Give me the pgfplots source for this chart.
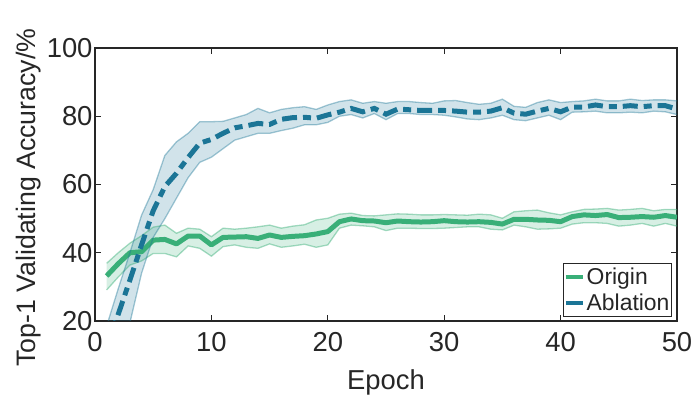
\documentclass[border=0pt]{standalone}
\usepackage{fontspec}
\setmainfont{Liberation Sans}
\usepackage{pgfplots}
\pgfplotsset{compat=1.18}
\usepackage{pgfplotstable}
\usepgfplotslibrary{fillbetween}
\definecolor{ax}{HTML}{262626}
\definecolor{cgreen}{RGB}{57,175,120}
\definecolor{cblue}{RGB}{27,117,150}

\pgfplotstableread{
e m u l
1 33.2 36.9 29.1
2 36.8 40.0 32.9
3 40.0 42.8 36.4
4 40.3 45.0 37.6
5 43.7 47.5 39.8
6 43.9 48.1 39.8
7 42.6 45.7 38.8
8 44.9 47.2 42.0
9 44.9 46.9 41.3
10 42.3 44.7 39.0
11 44.5 47.2 41.8
12 44.6 46.9 42.3
13 44.7 47.2 41.6
14 44.2 47.6 41.3
15 45.2 48.1 42.6
16 44.5 47.2 41.6
17 44.8 47.8 42.0
18 45.0 48.2 42.5
19 45.5 49.6 41.6
20 46.2 50.1 42.3
21 49.1 51.3 47.2
22 49.9 51.6 48.1
23 49.4 50.9 47.9
24 49.3 50.8 47.6
25 48.8 51.1 46.5
26 49.3 51.4 47.2
27 49.1 51.3 47.2
28 49.0 51.1 47.1
29 49.1 51.1 47.1
30 49.4 51.2 47.2
31 49.1 51.1 47.4
32 49.0 51.0 47.6
33 49.1 51.3 47.6
34 48.9 51.1 46.9
35 48.4 50.1 46.7
36 49.8 52.0 48.1
37 49.8 52.3 47.6
38 49.6 52.5 46.9
39 49.5 51.7 47.0
40 49.1 51.1 47.2
41 50.6 52.0 48.4
42 51.1 52.7 48.8
43 50.9 52.8 48.8
44 51.2 53.0 48.6
45 50.3 52.5 47.8
46 50.4 52.7 48.1
47 50.6 53.0 48.6
48 50.4 52.3 47.8
49 50.9 52.7 48.6
50 50.4 52.7 47.8
}\origin

\pgfplotstableread{
e m u l
1 12.0 18.5 4.0
2 22.0 29.5 12.0
3 32.0 40.0 19.5
4 42.3 51.0 34.0
5 52.3 58.5 44.5
6 59.4 68.5 50.0
7 63.3 72.5 56.0
8 67.9 75.0 62.0
9 72.1 78.4 66.5
10 73.2 78.4 68.0
11 75.0 78.5 70.5
12 76.6 79.5 73.0
13 77.2 80.5 74.0
14 77.9 82.3 75.0
15 77.6 81.0 75.0
16 79.1 82.0 75.8
17 79.6 82.5 76.5
18 79.7 82.8 77.5
19 79.4 82.0 77.5
20 80.4 83.3 78.2
21 81.2 84.3 80.0
22 82.3 84.8 80.5
23 81.3 83.8 79.5
24 82.3 84.3 80.8
25 80.6 83.8 79.0
26 82.1 84.3 80.8
27 81.9 84.3 80.8
28 81.7 84.0 80.5
29 81.7 83.8 80.5
30 81.7 84.5 80.3
31 81.5 84.6 79.8
32 81.2 84.0 79.2
33 81.2 83.5 79.0
34 81.5 83.8 79.5
35 82.5 85.0 80.3
36 80.9 82.9 79.0
37 80.6 82.6 78.7
38 81.5 84.0 79.5
39 82.3 84.8 80.3
40 81.3 84.0 79.0
41 82.7 84.3 81.2
42 82.7 84.5 81.3
43 83.3 85.0 81.5
44 82.8 84.5 81.0
45 82.8 84.5 81.0
46 83.1 85.0 81.2
47 82.8 84.6 81.0
48 83.1 84.8 81.5
49 83.1 84.8 81.3
50 82.1 84.5 80.5
}\ablation

\begin{document}
\begin{tikzpicture}
\begin{axis}[
  at={(0,0)}, anchor=south west,
  scale only axis, width=582bp, height=273bp,
  xmin=0, xmax=50, ymin=20, ymax=100,
  xtick={0,10,...,50}, ytick={20,40,...,100},
  tick align=inside, major tick length=6bp,
  axis line style={ax, line width=1.2bp},
  tick style={ax, line width=1.2bp},
  /pgf/number format/assume math mode=true,
  tick label style={font=\fontsize{27.5}{30}\selectfont, text=ax},
  xticklabel style={yshift=-8bp},
  yticklabel style={xshift=1bp},
  label style={font=\fontsize{26.8}{30}\selectfont, text=ax},
  xlabel={Epoch},
  ylabel={Top-1 Validating Accuracy/\%},
  xlabel style={at={(axis description cs:0.5,-0.2527)}, anchor=base, font=\fontsize{27.5}{30}\selectfont},
  ylabel style={at={(axis description cs:-0.1134,0.452)}, anchor=center},
  legend style={at={(axis description cs:0.9914,0.0147)}, anchor=south east,
    draw=ax, line width=1bp, fill=white,
    font=\fontsize{23}{26}\selectfont, text=ax,
    inner xsep=0.5bp, inner ysep=2bp, row sep=3bp,
    nodes={inner xsep=1.5bp, inner ysep=2.5bp}},
  legend cell align=left,
  legend image code/.code={\draw[#1, solid, line width=4.5bp] (0bp,0bp) -- (17bp,0bp);},
]
% Origin band
\addplot[name path=gu, draw=cgreen, draw opacity=0.45, line width=1.3bp, forget plot] table[x=e, y=u] {\origin};
\addplot[name path=gl, draw=cgreen, draw opacity=0.45, line width=1.3bp, forget plot] table[x=e, y=l] {\origin};
\addplot[fill=cgreen, fill opacity=0.2, draw=none, forget plot] fill between[of=gu and gl];
\addplot[cgreen, line width=5bp, line join=round] table[x=e, y=m] {\origin};
\addlegendentry{Origin}
% Ablation band
\addplot[name path=bu, draw=cblue, draw opacity=0.4, line width=1.3bp, forget plot] table[x=e, y=u] {\ablation};
\addplot[name path=bl, draw=cblue, draw opacity=0.4, line width=1.3bp, forget plot] table[x=e, y=l] {\ablation};
\addplot[fill=cblue, fill opacity=0.2, draw=none, forget plot] fill between[of=bu and bl];
\addplot[cblue, line width=5bp, dash pattern=on 15bp off 6bp on 8bp off 6bp] table[x=e, y=m] {\ablation};
\addlegendentry{Ablation}
\end{axis}
\pgfresetboundingbox
\useasboundingbox (-95bp,-81bp) rectangle (602bp,321bp);
\end{tikzpicture}
\end{document}
